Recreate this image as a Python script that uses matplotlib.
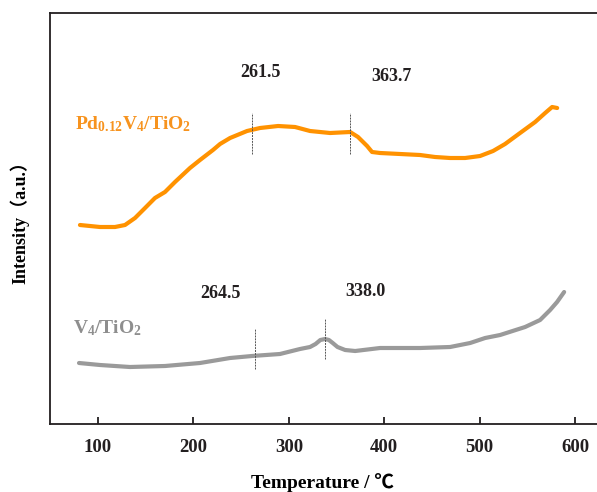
import matplotlib
matplotlib.use("Agg")
import matplotlib.pyplot as plt

plt.rcParams['font.family'] = ['Liberation Serif', 'Noto Sans CJK SC', 'DejaVu Sans']
plt.rcParams['mathtext.default'] = 'regular'

# temperature (C) and intensity (a.u.)
pd_temp = [81.1, 102.1, 117.8, 128.3, 138.8, 149.3, 159.7, 170.2, 180.7, 196.4,
           206.9, 220.5, 227.9, 238.4, 256.2, 269.8, 288.7, 306.5, 322.2, 343.2,
           364.2, 372.5, 382.0, 387.2, 395.6, 416.6, 437.5, 453.2, 469.0, 484.7,
           500.4, 514.0, 526.6, 542.3, 558.1, 568.6, 575.9, 581.2]
pd_int = [199, 197, 197, 199, 206, 216, 226, 232, 242, 256,
          264, 274, 280, 286, 293, 296, 298, 297, 293, 291,
          292, 287, 278, 272, 271, 270, 269, 267, 266, 266,
          268, 273, 280, 291, 302, 311, 317, 316]

v_temp = [80.1, 102.1, 133.5, 170.2, 206.9, 238.4, 261.4, 290.7, 311.7, 322.2,
          328.0, 333.0, 338.0, 342.0, 346.0, 351.0, 359.0, 369.5, 395.6, 437.5,
          469.0, 490.0, 505.7, 521.4, 547.6, 563.3, 573.8, 581.1, 588.5]
v_int = [61, 59, 57, 58, 61, 66, 68, 70, 75, 77,
         80, 84, 85, 84, 81, 77, 74, 73, 76, 76,
         77, 81, 86, 89, 97, 104, 114, 122, 132]

pd_peaks = [261.5, 363.7]
v_peaks = [264.5, 338.0]

orange = '#ff9200'
grey = '#9a9a9a'
dark = '#231f20'

fig = plt.figure(figsize=(5.97, 4.92), dpi=100)
ax = fig.add_axes([50 / 597, 68 / 492, 590 / 597, 411 / 492])

ax.plot(pd_temp, pd_int, color=orange, lw=3, solid_joinstyle='round', solid_capstyle='round')
ax.plot(v_temp, v_int, color=grey, lw=3, solid_joinstyle='round', solid_capstyle='round')

for t in pd_peaks:
    ax.plot([t, t], [270, 311], color='#555555', lw=0.7, ls=(0, (2, 1)))
for t in v_peaks:
    lo = 55 if t < 300 else 65
    ax.plot([t, t], [lo, lo + 40], color='#555555', lw=0.7, ls=(0, (2, 1)))

ax.text(270, 352, '261.5', ha='center', va='center', fontsize=13, fontweight='bold', color=dark)
ax.text(408, 348, '363.7', ha='center', va='center', fontsize=13, fontweight='bold', color=dark)
ax.text(228, 130, '264.5', ha='center', va='center', fontsize=13, fontweight='bold', color=dark)
ax.text(380, 133, '338.0', ha='center', va='center', fontsize=13, fontweight='bold', color=dark)

ax.text(76, 300, 'Pd$_{0.12}$V$_4$/TiO$_2$', ha='left', va='center', fontsize=14,
        fontweight='bold', color='#f7931e')
ax.text(74, 96, 'V$_4$/TiO$_2$', ha='left', va='center', fontsize=14,
        fontweight='bold', color='#8e8e8e')

ax.set_xlim(49.7, 668)
ax.set_ylim(0, 411)
ax.set_xticks([100, 200, 300, 400, 500, 600])
ax.set_yticks([])
ax.tick_params(axis='x', direction='in', length=5, width=1.3, pad=11,
               labelsize=13.5, colors=dark)
for lab in ax.get_xticklabels():
    lab.set_fontweight('bold')
for sp in ax.spines.values():
    sp.set_linewidth(1.3)
    sp.set_color(dark)

ax.set_xlabel('Temperature / ℃', fontsize=14, fontweight='bold')
ax.xaxis.set_label_coords(0.461, -0.12)
ax.set_ylabel('Intensity（a.u.）', fontsize=13, fontweight='bold', labelpad=15)

fig.savefig('out.png', dpi=100)
